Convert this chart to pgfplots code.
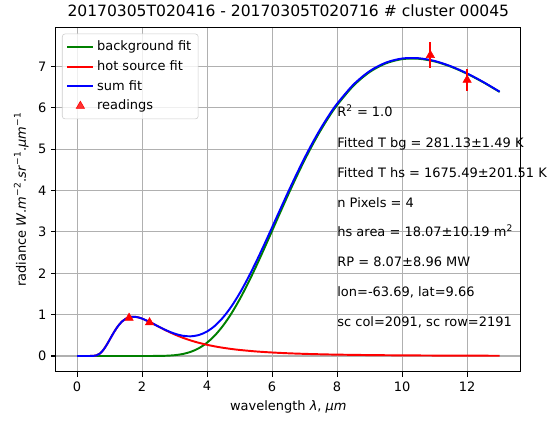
\documentclass[border=0pt]{standalone}
\usepackage{fontspec}
\setmainfont{DejaVu Sans}
\usepackage{pgfplots}
\pgfplotsset{compat=1.18}
\usepackage{pgfplotstable}

\definecolor{mplgreen}{HTML}{008000}
\definecolor{mplgrid}{HTML}{B0B0B0}
\definecolor{legedge}{HTML}{CCCCCC}

% background Planck fit, T = 281.13 K
\pgfplotstableread{
x y
0 0
1 0
2 0
2.25 0.0003
2.5 0.0016
2.75 0.0063
3.0 0.0191
3.25 0.0476
3.5 0.1011
3.75 0.1899
4.0 0.3227
4.25 0.5060
4.5 0.7423
4.75 1.0302
5.0 1.3669
5.25 1.7436
5.5 2.1523
5.75 2.5829
6.0 3.0255
6.25 3.4701
6.5 3.9084
6.75 4.3326
7.0 4.7366
7.25 5.1149
7.5 5.4640
7.75 5.7815
8.0 6.0648
8.5 6.5307
9.0 6.8633
9.5 7.0732
10.0 7.1756
10.5 7.1855
11.0 7.1203
11.5 6.9939
12.0 6.8222
12.5 6.6149
13.0 6.3830
}\bgfit

% hot source fit, T = 1675.49 K
\pgfplotstableread{
x y
0 0
0.25 0
0.5 0.0023
0.6 0.0164
0.7 0.0585
0.8 0.1390
0.9 0.2543
1.0 0.3900
1.1 0.5287
1.2 0.6561
1.3 0.7629
1.4 0.8448
1.5 0.9016
1.6 0.9351
1.7 0.9488
1.8 0.9458
1.9 0.9300
2.0 0.9045
2.25 0.8158
2.5 0.7130
2.75 0.6125
3.0 0.5214
3.25 0.4421
3.5 0.3746
3.75 0.3177
4.0 0.2702
4.25 0.2305
4.5 0.1974
4.75 0.1696
5.0 0.1464
5.5 0.1103
6.0 0.0845
6.5 0.0656
7.0 0.0516
7.5 0.0411
8.0 0.0331
9.0 0.0222
10.0 0.0154
11.0 0.0110
12.0 0.0080
13.0 0.0060
}\hsfit

% sum
\pgfplotstableread{
x y
0 0
0.25 0
0.5 0.0023
0.6 0.0164
0.7 0.0585
0.8 0.1390
0.9 0.2543
1.0 0.3900
1.1 0.5287
1.2 0.6561
1.3 0.7629
1.4 0.8448
1.5 0.9016
1.6 0.9351
1.7 0.9488
1.8 0.9458
1.9 0.9300
2.0 0.9045
2.25 0.8161
2.5 0.7146
2.75 0.6188
3.0 0.5405
3.25 0.4897
3.5 0.4757
3.75 0.5076
4.0 0.5929
4.25 0.7365
4.5 0.9397
4.75 1.1998
5.0 1.5133
5.25 1.8705
5.5 2.2626
5.75 2.6793
6.0 3.1100
6.25 3.5444
6.5 3.9740
6.75 4.3907
7.0 4.7882
7.25 5.1609
7.5 5.5051
7.75 5.8184
8.0 6.0979
8.5 6.5577
9.0 6.8855
9.5 7.0916
10.0 7.1910
10.5 7.1984
11.0 7.1313
11.5 7.0033
12.0 6.8302
12.5 6.6218
13.0 6.3890
}\sumfit

\pgfplotstableread{
x y e
1.60 0.92 0.03
2.23 0.81 0.03
10.87 7.27 0.32
12.00 6.67 0.26
}\readings

\begin{document}
\begin{tikzpicture}
\begin{axis}[
    scale only axis,
    width=334.8pt, height=248.4pt,
    clip=false,
    xmin=-0.65, xmax=13.65,
    ymin=-0.386, ymax=7.95,
    xtick={0,2,...,12},
    ytick={0,1,...,7},
    grid=major,
    grid style={mplgrid, line width=0.75pt},
    axis line style={black, line width=0.75pt},
    tick align=outside,
    xtick pos=bottom, ytick pos=left,
    major tick length=3.3pt,
    tick style={black, line width=0.75pt},
    tick label style={font=\fontsize{9.35}{11}\selectfont},
    /pgf/number format/assume math mode=true,
    label style={font=\fontsize{9.35}{11}\selectfont},
    xlabel={wavelength \textit{λ}, \textit{μm}},
    ylabel={radiance \textit{W}.\textit{m}\textsuperscript{−2}.\textit{sr}\textsuperscript{−1}.\textit{μm}\textsuperscript{−1}},
    title={20170305T020416 - 20170305T020716 \# cluster 00045},
    title style={font=\fontsize{11.2}{13}\selectfont, yshift=-2pt},
    legend cell align=left,
    legend style={at={(0.013,0.981)}, anchor=north west,
        draw=legedge, rounded corners=2pt, fill=white, fill opacity=0.8, text opacity=1,
        font=\fontsize{9.35}{11}\selectfont, row sep=1.6pt, inner sep=3pt},
    legend image code/.code={\draw[mark repeat=2,mark phase=2,#1] plot coordinates {(0pt,0pt) (9.35pt,0pt) (18.7pt,0pt)};},
]
\addplot[mplgreen, line width=1.4pt, smooth] table {\bgfit};
\addlegendentry{background fit}
\addplot[red, line width=1.4pt, smooth] table {\hsfit};
\addlegendentry{hot source fit}
\addplot[blue, line width=1.4pt, smooth] table {\sumfit};
\addlegendentry{sum fit}
\addplot[red, only marks, mark=triangle*, mark size=3.46pt,
    error bars/.cd, y dir=both, y explicit,
    error bar style={red, line width=1.4pt}, error mark=none,
    ] table[x=x, y=y, y error=e] {\readings};
\addlegendimage{legend image code/.code={
    \draw[red, line width=1.4pt] (9.35pt,-4.5pt) -- (9.35pt,4.5pt);
    \draw[red] plot[mark=triangle*, mark size=3.46pt] coordinates {(9.35pt,0pt)};}}
\addlegendentry{readings}

\begin{scope}[every node/.style={anchor=base west, inner sep=0pt, font=\fontsize{9.35}{11}\selectfont}]
\node at (axis cs:8.0,5.79) {R\textsuperscript{2} = 1.0};
\node at (axis cs:8.0,5.03) {Fitted T bg = 281.13±1.49 K};
\node at (axis cs:8.0,4.31) {Fitted T hs = 1675.49±201.51 K};
\node at (axis cs:8.0,3.58) {n Pixels = 4};
\node at (axis cs:8.0,2.88) {hs area = 18.07±10.19 m\textsuperscript{2}};
\node at (axis cs:8.0,2.17) {RP = 8.07±8.96 MW};
\node at (axis cs:8.0,1.43) {lon=-63.69, lat=9.66};
\node at (axis cs:8.0,0.71) {sc col=2091, sc row=2191};
\end{scope}
\end{axis}
\path (current axis.south west) ++(-40.3pt,-35.3pt) coordinate (bbA);
\path (current axis.north east) ++(25.4pt,19.4pt) coordinate (bbB);
\path (bbA) rectangle (bbB);
\end{tikzpicture}
\end{document}
